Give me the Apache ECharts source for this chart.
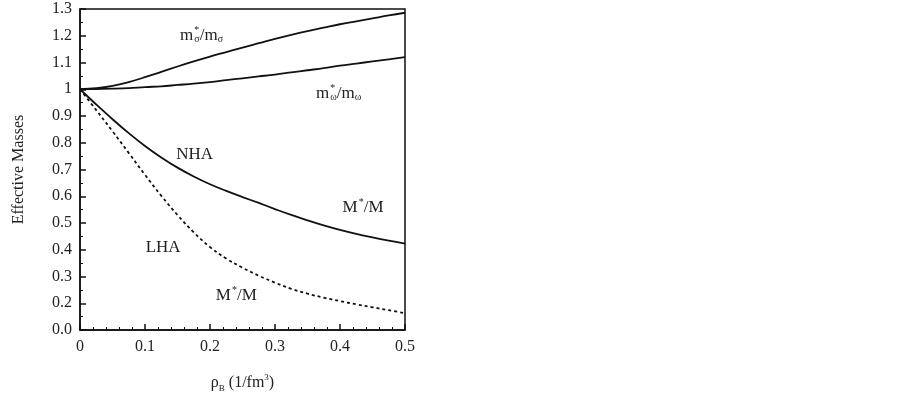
<!DOCTYPE html>
<html><head><meta charset="utf-8">
<script src="https://cdn.jsdelivr.net/npm/echarts@6/dist/echarts.min.js"></script>
<style>html,body{margin:0;padding:0;background:#fff}#c{width:903px;height:395px}</style>
</head><body><div id="c"></div>
<script>
// ---- data ----
const rho = [0, 0.025, 0.05, 0.075, 0.1, 0.125, 0.15, 0.175, 0.2, 0.225, 0.25, 0.275, 0.3, 0.325, 0.35, 0.375, 0.4, 0.425, 0.45, 0.475, 0.5];
const mSigma = [1.000, 1.004, 1.013, 1.027, 1.045, 1.065, 1.085, 1.104, 1.122, 1.139, 1.156, 1.172, 1.188, 1.203, 1.217, 1.230, 1.243, 1.254, 1.265, 1.276, 1.286];
const mOmega = [1.000, 1.001, 1.002, 1.004, 1.008, 1.011, 1.016, 1.021, 1.027, 1.034, 1.041, 1.048, 1.055, 1.063, 1.071, 1.079, 1.088, 1.096, 1.104, 1.112, 1.120];
const mNHA = [1.000, 0.943, 0.888, 0.836, 0.788, 0.745, 0.707, 0.674, 0.645, 0.620, 0.597, 0.575, 0.552, 0.530, 0.510, 0.491, 0.474, 0.459, 0.446, 0.434, 0.423];
const mLHA = [1.000, 0.922, 0.843, 0.762, 0.680, 0.602, 0.530, 0.465, 0.410, 0.367, 0.333, 0.303, 0.277, 0.254, 0.236, 0.221, 0.208, 0.196, 0.185, 0.174, 0.163];
const xTickLabels = ["0", "0.1", "0.2", "0.3", "0.4", "0.5"];
const yTickValues = [0.1, 0.2, 0.3, 0.4, 0.5, 0.6, 0.7, 0.8, 0.9, 1.0, 1.1, 1.2, 1.3];
const yTickLabels = ["0.0", "0.2", "0.3", "0.4", "0.5", "0.6", "0.7", "0.8", "0.9", "1", "1.1", "1.2", "1.3"];
const xTitle = ["ρ", "B", " (1/fm", "3", ")"];
const yTitle = "Effective Masses";
// annotations: anchor (left edge, vertical middle) in data coords
const annotations = [
  {x: 0.154, y: 1.200, parts: [["m", 0], ["*", 1], ["σ", 2], ["/m", 0], ["σ", 2]]},
  {x: 0.363, y: 0.985, parts: [["m", 0], ["*", 1], ["ω", 2], ["/m", 0], ["ω", 2]]},
  {x: 0.148, y: 0.757, parts: [["NHA", 0]]},
  {x: 0.404, y: 0.558, parts: [["M", 0], ["*", 3], ["/M", 0]]},
  {x: 0.101, y: 0.409, parts: [["LHA", 0]]},
  {x: 0.209, y: 0.229, parts: [["M", 0], ["*", 3], ["/M", 0]]}
];

const FONT = '"Liberation Serif", "Times New Roman", serif';
const INK = '#111';
const TXT = '#222';
const chart = echarts.init(document.getElementById('c'), null, {renderer: 'canvas'});

function pairs(ys) { return rho.map((x, i) => [x, ys[i]]); }
function yLabel(v) {
  let idx = yTickValues.findIndex(t => Math.abs(t - v) < 1e-6);
  return idx >= 0 ? yTickLabels[idx] : '';
}
const lineSeries = (data, dashed) => ({
  type: 'line', data: pairs(data), smooth: 0.4, symbol: 'none',
  lineStyle: {color: INK, width: 1.8, type: dashed ? [3, 3] : 'solid'}
});

chart.setOption({
  animation: false,
  grid: {left: 80, right: 498, top: 9, bottom: 65, containLabel: false, outerBoundsMode: 'none',
         show: true, borderColor: INK, borderWidth: 1.5, backgroundColor: 'transparent'},
  xAxis: {
    type: 'value', min: 0, max: 0.5, interval: 0.1,
    axisLine: {show: true, onZero: false, lineStyle: {color: INK, width: 1.5}},
    axisTick: {show: true, inside: true, length: 6, lineStyle: {color: INK, width: 1.5}},
    minorTick: {show: true, splitNumber: 5, length: 3, lineStyle: {color: INK, width: 1}},
    splitLine: {show: false},
    axisLabel: {formatter: v => xTickLabels[Math.round(v / 0.1)], fontFamily: FONT, fontSize: 16, color: TXT, margin: 9},
    name: '{r|' + xTitle[0] + '}{s|' + xTitle[1] + '}{r|' + xTitle[2] + '}{p|' + xTitle[3] + '}{r|' + xTitle[4] + '}',
    nameLocation: 'middle', nameGap: 43,
    nameTextStyle: {
      fontFamily: FONT, fontSize: 16, color: TXT,
      rich: {
        r: {fontFamily: FONT, fontSize: 16, color: TXT, lineHeight: 20, verticalAlign: 'middle'},
        s: {fontFamily: FONT, fontSize: 9, color: TXT, lineHeight: 20, verticalAlign: 'bottom'},
        p: {fontFamily: FONT, fontSize: 9, color: TXT, lineHeight: 20, verticalAlign: 'top'}
      }
    }
  },
  yAxis: {
    type: 'value', min: 0.1, max: 1.3, interval: 0.1,
    axisLine: {show: true, onZero: false, lineStyle: {color: INK, width: 1.5}},
    axisTick: {show: true, inside: true, length: 6, lineStyle: {color: INK, width: 1.5}},
    minorTick: {show: true, splitNumber: 2, length: 3, lineStyle: {color: INK, width: 1}},
    splitLine: {show: false},
    axisLabel: {formatter: yLabel, fontFamily: FONT, fontSize: 16, color: TXT, margin: 8},
    name: yTitle, nameLocation: 'middle', nameGap: 53, nameRotate: 90,
    nameTextStyle: {fontFamily: FONT, fontSize: 16, color: TXT}
  },
  series: [lineSeries(mSigma, false), lineSeries(mOmega, false), lineSeries(mNHA, false), lineSeries(mLHA, true)]
});

// build annotations with real text
const cv = document.createElement('canvas').getContext('2d');
function w(t, s) { cv.font = s + 'px ' + FONT; return cv.measureText(t).width; }
const MAIN = 17, SMALL = 10;
const graphics = [];
annotations.forEach(a => {
  const p = chart.convertToPixel({gridIndex: 0}, [a.x, a.y]);
  let x = p[0];
  a.parts.forEach(([t, kind]) => {
    let size = kind === 0 ? MAIN : SMALL, dy = 0, adv = true;
    if (kind === 1) { dy = -5; adv = false; }        // superscript stacked over subscript
    if (kind === 2) { dy = 4; }                      // subscript
    if (kind === 3) { dy = -5; }                     // superscript
    graphics.push({
      type: 'text', x: x, y: p[1] + dy, silent: true,
      style: {text: t, fontFamily: FONT, fontSize: size, fill: TXT, verticalAlign: 'middle', align: 'left'}
    });
    if (adv) x += w(t, size) + (kind === 0 && t.length === 1 ? 1 : 0);
  });
});
chart.setOption({graphic: graphics});
</script>
</body></html>
